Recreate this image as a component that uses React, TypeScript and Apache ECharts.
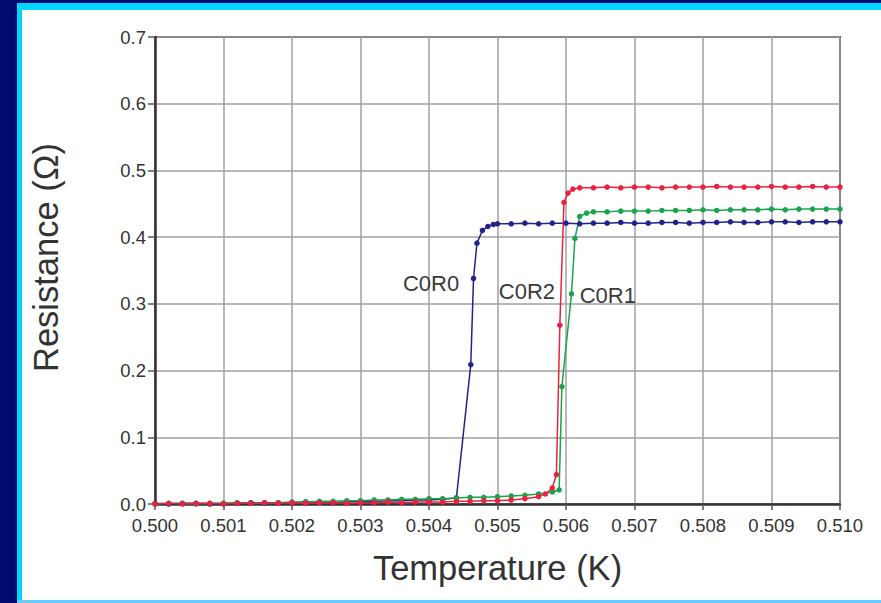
import React, { useEffect, useRef } from "react";
import * as echarts from "echarts";

// Temperature (K) / Resistance (Ω) readings
const C0R0: [number, number][] = [
  [0.5, 0.001], [0.5002, 0.0], [0.5004, 0.001], [0.5006, 0.001], [0.5008, 0.0],
  [0.501, 0.001], [0.5012, 0.001], [0.5014, 0.002], [0.5016, 0.001], [0.5018, 0.002],
  [0.502, 0.002], [0.5022, 0.003], [0.5024, 0.003], [0.5026, 0.002], [0.5028, 0.003],
  [0.503, 0.004], [0.5032, 0.004], [0.5034, 0.005], [0.5036, 0.005], [0.5038, 0.006],
  [0.504, 0.006], [0.5042, 0.007], [0.5044, 0.009], [0.50461, 0.209], [0.50465, 0.338],
  [0.5047, 0.391], [0.50478, 0.41], [0.50486, 0.416], [0.50494, 0.419], [0.505, 0.42],
  [0.5052, 0.42], [0.5054, 0.421], [0.5056, 0.42], [0.5058, 0.421], [0.506, 0.421],
  [0.5062, 0.42], [0.5064, 0.421], [0.5066, 0.421], [0.5068, 0.422], [0.507, 0.421],
  [0.5072, 0.421], [0.5074, 0.422], [0.5076, 0.422], [0.5078, 0.421], [0.508, 0.422],
  [0.5082, 0.422], [0.5084, 0.423], [0.5086, 0.422], [0.5088, 0.422], [0.509, 0.423],
  [0.5092, 0.423], [0.5094, 0.422], [0.5096, 0.423], [0.5098, 0.423], [0.51, 0.423],
];

const C0R1: [number, number][] = [
  [0.5, 0.0], [0.5002, 0.001], [0.5004, 0.001], [0.5006, 0.0], [0.5008, 0.001],
  [0.501, 0.001], [0.5012, 0.002], [0.5014, 0.001], [0.5016, 0.002], [0.5018, 0.002],
  [0.502, 0.003], [0.5022, 0.003], [0.5024, 0.004], [0.5026, 0.004], [0.5028, 0.005],
  [0.503, 0.005], [0.5032, 0.006], [0.5034, 0.006], [0.5036, 0.007], [0.5038, 0.007],
  [0.504, 0.008], [0.5042, 0.008], [0.5044, 0.009], [0.5046, 0.01], [0.5048, 0.01],
  [0.505, 0.011], [0.5052, 0.012], [0.5054, 0.013], [0.5056, 0.015], [0.5058, 0.018],
  [0.5059, 0.021], [0.50594, 0.176], [0.50608, 0.315], [0.50613, 0.398], [0.5062, 0.431],
  [0.5063, 0.436], [0.5064, 0.438], [0.5066, 0.438], [0.5068, 0.439], [0.507, 0.439],
  [0.5072, 0.439], [0.5074, 0.44], [0.5076, 0.44], [0.5078, 0.44], [0.508, 0.441],
  [0.5082, 0.44], [0.5084, 0.441], [0.5086, 0.441], [0.5088, 0.441], [0.509, 0.442],
  [0.5092, 0.441], [0.5094, 0.442], [0.5096, 0.442], [0.5098, 0.442], [0.51, 0.442],
];

const C0R2: [number, number][] = [
  [0.5, 0.0], [0.5002, 0.001], [0.5004, 0.0], [0.5006, 0.001], [0.5008, 0.001],
  [0.501, 0.0], [0.5012, 0.001], [0.5014, 0.001], [0.5016, 0.002], [0.5018, 0.001],
  [0.502, 0.002], [0.5022, 0.001], [0.5024, 0.002], [0.5026, 0.002], [0.5028, 0.001],
  [0.503, 0.002], [0.5032, 0.002], [0.5034, 0.003], [0.5036, 0.002], [0.5038, 0.003],
  [0.504, 0.003], [0.5042, 0.003], [0.5044, 0.004], [0.5046, 0.004], [0.5048, 0.005],
  [0.505, 0.005], [0.5052, 0.006], [0.5054, 0.008], [0.5056, 0.011], [0.5057, 0.015],
  [0.5058, 0.024], [0.50586, 0.044], [0.50591, 0.268], [0.50597, 0.452], [0.50603, 0.466],
  [0.5061, 0.472], [0.5062, 0.474], [0.5064, 0.474], [0.5066, 0.475], [0.5068, 0.474],
  [0.507, 0.475], [0.5072, 0.475], [0.5074, 0.474], [0.5076, 0.475], [0.5078, 0.475],
  [0.508, 0.475], [0.5082, 0.476], [0.5084, 0.475], [0.5086, 0.475], [0.5088, 0.475],
  [0.509, 0.476], [0.5092, 0.475], [0.5094, 0.475], [0.5096, 0.476], [0.5098, 0.475],
  [0.51, 0.475],
];

const LABEL_C0R0: [number, number] = [0.50403, 0.33];
const LABEL_C0R2: [number, number] = [0.50543, 0.318];
const LABEL_C0R1: [number, number] = [0.50661, 0.312];

const FONT = "'Liberation Sans', Arial, sans-serif";

function mkSeries(name: string, data: [number, number][], color: string, labelCoord: [number, number]) {
  return {
    name,
    type: "line",
    data,
    symbol: "circle",
    symbolSize: 5.5,
    showSymbol: true,
    lineStyle: { color, width: 1.5 },
    itemStyle: { color },
    markPoint: {
      symbol: "circle",
      symbolSize: 0,
      silent: true,
      label: {
        show: true,
        position: "inside",
        formatter: name,
        color: "#3a3a3a",
        fontSize: 22,
        fontFamily: FONT,
      },
      data: [{ coord: labelCoord }],
    },
  };
}

export default function App() {
  const ref = useRef<HTMLDivElement>(null);
  useEffect(() => {
    if (!ref.current) return;
    const chart = echarts.init(ref.current, undefined, { renderer: "svg" });
    chart.setOption({
      animation: false,
      grid: {
        left: 155,
        top: 37,
        right: 41,
        bottom: 99,
        show: true,
        borderColor: "#444",
        borderWidth: 2,
        backgroundColor: "transparent",
      },
      xAxis: {
        type: "value",
        min: 0.5,
        max: 0.51,
        interval: 0.001,
        name: "Temperature (K)",
        nameLocation: "middle",
        nameGap: 46.5,
        nameTextStyle: { fontSize: 34.5, color: "#333", fontFamily: FONT },
        axisLine: { show: true, lineStyle: { color: "#333", width: 2.5 } },
        axisTick: { show: true, length: 6, lineStyle: { color: "#555", width: 1.5 } },
        axisLabel: {
          color: "#333",
          fontSize: 18.5,
          fontFamily: FONT,
          margin: 12,
          formatter: (v: number) => v.toFixed(3),
        },
        splitLine: { show: true, lineStyle: { color: "#a0a0a0", width: 1.5 } },
      },
      yAxis: {
        type: "value",
        min: 0,
        max: 0.7,
        interval: 0.1,
        name: "Resistance (Ω)",
        nameLocation: "middle",
        nameGap: 91.5,
        nameTextStyle: { fontSize: 34.5, color: "#333", fontFamily: FONT, padding: [0, 0, 0, 26] },
        axisLine: { show: true, lineStyle: { color: "#333", width: 2.5 } },
        axisTick: { show: true, length: 7, lineStyle: { color: "#555", width: 1.5 } },
        axisLabel: {
          color: "#333",
          fontSize: 18.5,
          fontFamily: FONT,
          margin: 9,
          formatter: (v: number) => v.toFixed(1),
        },
        splitLine: { show: true, lineStyle: { color: "#a0a0a0", width: 1.5 } },
      },
      series: [
        mkSeries("C0R0", C0R0, "#22228c", LABEL_C0R0),
        mkSeries("C0R1", C0R1, "#19a44c", LABEL_C0R1),
        mkSeries("C0R2", C0R2, "#ec2040", LABEL_C0R2),
      ],
    });
    return () => chart.dispose();
  }, []);

  return (
    <div style={{ position: "fixed", left: 0, top: 0, width: 881, height: 603, background: "#000c70", overflow: "hidden" }}>
      <div style={{ position: "absolute", left: 17, top: 3, width: 864, height: 600, background: "#00d6ff" }} />
      <div style={{ position: "absolute", left: 17, top: 600, width: 864, height: 3, background: "#66ccff" }} />
      <div style={{ position: "absolute", left: 22, top: 10, width: 859, height: 590, background: "#ffffff" }} />
      <div ref={ref} style={{ position: "absolute", left: 0, top: 0, width: 881, height: 603 }} />
    </div>
  );
}
